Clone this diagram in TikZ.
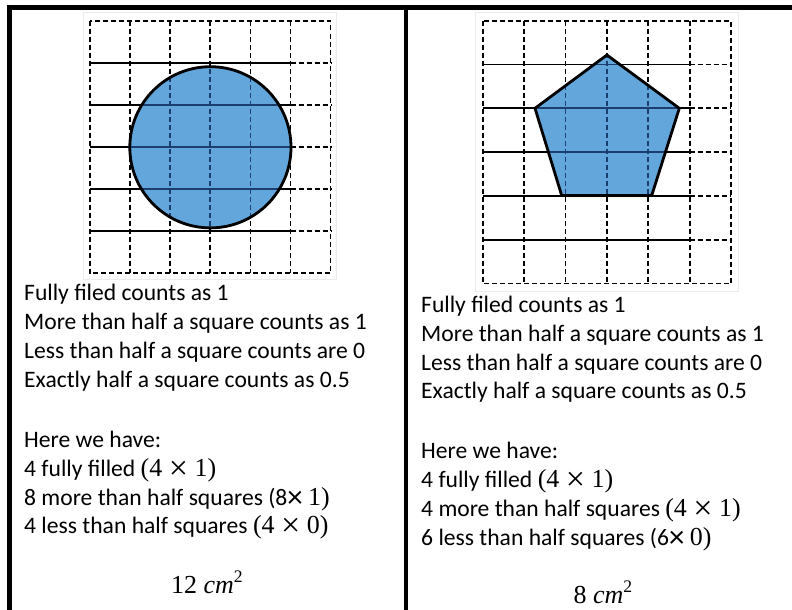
\documentclass[tikz,border=0pt]{standalone}
\usepackage{fontspec}
\setmainfont{Carlito}
\newfontfamily\mserif[Scale=1.1]{Liberation Serif}
\definecolor{shapeblue}{RGB}{98,166,219}
\definecolor{innerline}{RGB}{28,62,110}
\newcommand\mygrid[5]{%
  \foreach \i in {1,...,5}{\draw[gridline,#5] ({#1+\i*#3},#2)--({#1+\i*#3},{#2+6*#4});}
  \foreach \j in {1,...,5}{%
    \draw[solidline,#5] (#1,{#2+\j*#4})--({#1+5*#3},{#2+\j*#4});
    \draw[gridline,#5] ({#1+5*#3},{#2+\j*#4})--({#1+6*#3},{#2+\j*#4});}
  \draw[gridline,#5] (#1,#2) rectangle ({#1+6*#3},{#2+6*#4});
}
\newcommand\mx[1]{{\mserif #1}}
\newcommand\tms{\smash{\raisebox{-0.1em}{\fontsize{31}{31}\selectfont ×}}}
\newcommand\sqr{\smash{\raisebox{0.42em}{\mserif\fontsize{16}{16}\selectfont 2}}}
\begin{document}
\begin{tikzpicture}[x=1pt,y=-1pt,
  gridline/.style={line width=1.7pt, dash pattern=on 5pt off 3pt},
  solidline/.style={line width=1.7pt},
  shapeline/.style={line width=2.8pt, line join=round},
  frame/.style={black!8, line width=0.8pt},
  rule/.style={line width=4.6pt},
  txt/.style={anchor=base west, inner sep=0pt, font=\fontsize{23.6}{28}\selectfont},
  area/.style={anchor=base, inner sep=0pt, font=\fontsize{23.6}{28}\selectfont}]
\useasboundingbox (0,0) rectangle (792,610);

% table rules
\draw[rule] (9.7,610) -- (9.7,7.5) -- (792,7.5);
\draw[rule] (406,7.5) -- (406,610);

% left picture: circle
\draw[frame] (83.5,12.5) rectangle (336.5,279.5);
\mygrid{90}{20.7}{40.1}{42.1}{black}
\fill[shapeblue] (210.4,147.3) circle (80.6pt);
\begin{scope}
  \clip (210.4,147.3) circle (80.6pt);
  \mygrid{90}{20.7}{40.1}{42.1}{innerline}
\end{scope}
\draw[shapeline] (210.4,147.3) circle (80.6pt);

% right picture: pentagon
\draw[frame] (475.5,12.5) rectangle (738,291.5);
\mygrid{482.7}{20.7}{41.4}{43.8}{black}
\fill[shapeblue] (606.9,55) -- (679.3,108.3) -- (651.7,195.5) -- (561.7,195.5) -- (535,108.3) -- cycle;
\begin{scope}
  \clip (606.9,55) -- (679.3,108.3) -- (651.7,195.5) -- (561.7,195.5) -- (535,108.3) -- cycle;
  \mygrid{482.7}{20.7}{41.4}{43.8}{innerline}
\end{scope}
\draw[shapeline] (606.9,55) -- (679.3,108.3) -- (651.7,195.5) -- (561.7,195.5) -- (535,108.3) -- cycle;

% left text
\node[txt] (l1) at (24,300) {Fully filed counts as 1};
\node[txt] (l2) at (24,329.5) {More than half a square counts as 1};
\node[txt] (l3) at (24,358.5) {Less than half a square counts are 0};
\node[txt] (l4) at (24,387.5) {Exactly half a square counts as 0.5};
\node[txt] (l5) at (24,447.5) {Here we have:};
\node[txt] (l6) at (24,476.5) {4 fully filled \mx{(4 \tms{} 1)}};
\node[txt] (l7) at (24,505) {8 more than half squares (8\tms{} \mx{1)}};
\node[txt] (l8) at (24,533.5) {4 less than half squares \mx{(4 \tms{} 0)}};
\node[area] (la) at (207,593) {\mx{12 \textit{cm}\sqr}};

% right text
\node[txt] (r1) at (421,312) {Fully filed counts as 1};
\node[txt] (r2) at (421,341) {More than half a square counts as 1};
\node[txt] (r3) at (421,370) {Less than half a square counts are 0};
\node[txt] (r4) at (421,398.5) {Exactly half a square counts as 0.5};
\node[txt] (r5) at (421,458.5) {Here we have:};
\node[txt] (r6) at (421,487.5) {4 fully filled \mx{(4 \tms{} 1)}};
\node[txt] (r7) at (421,516.5) {4 more than half squares \mx{(4 \tms{} 1)}};
\node[txt] (r8) at (421,545) {6 less than half squares (6\tms{} \mx{0)}};
\node[area] (ra) at (603,603) {\mx{8 \textit{cm}\sqr}};
\end{tikzpicture}
\end{document}
